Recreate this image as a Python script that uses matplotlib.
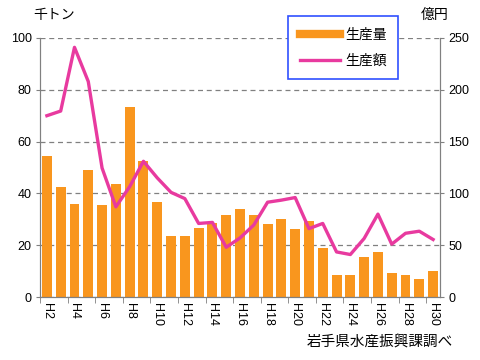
import numpy as np
import matplotlib
matplotlib.use('Agg')
import matplotlib.pyplot as plt
from matplotlib.lines import Line2D

plt.rcParams['font.family'] = ['Liberation Sans', 'Noto Sans CJK JP']

# 年次（平成）
years = ['H%d' % y for y in range(2, 31)]
# 生産量（千トン）
volume = [54.5, 42.5, 36, 49, 35.5, 43.5, 73.5, 52.5, 36.5, 23.5,
          23.5, 26.5, 28.5, 31.5, 34, 31.5, 28.3, 30, 26.3, 29.4,
          19, 8.5, 8.5, 15.5, 17.4, 9.2, 8.5, 6.9, 10]
# 生産額（億円）
value = [175, 179.5, 241, 208, 124.5, 87, 106.5, 131, 115, 101,
         95, 71, 72, 48, 57, 69.5, 91.5, 93.5, 96, 66,
         71, 43.5, 41, 56.5, 80, 51, 61.5, 63.5, 55.5]

bar_color = '#F9961E'
line_color = '#E83A9F'
axis_color = '#808080'

fig = plt.figure(figsize=(4.8, 3.6), dpi=100)
ax = fig.add_axes([40 / 480, 1 - 297 / 360, 400 / 480, 259 / 360])
x = np.arange(len(years))

ax.bar(x, volume, width=0.72, color=bar_color, zorder=2)
ax.set_xlim(-0.5, len(years) - 0.5)
ax.set_ylim(0, 100)
ax.set_yticks([0, 20, 40, 60, 80, 100])
ax.yaxis.grid(True, linestyle=(0, (4, 3)), color=axis_color, linewidth=0.9)
ax.set_axisbelow(True)

ax.set_xticks(x[::2])
ax.set_xticklabels(years[::2], rotation=-90)
ax.set_xticks(np.arange(-0.5, len(years), 2), minor=True)
ax.tick_params(axis='x', which='major', length=0, pad=4, labelsize=9)
ax.tick_params(axis='x', which='minor', length=4, color=axis_color)
ax.tick_params(axis='y', length=3, color=axis_color, labelsize=9, pad=3)

ax2 = ax.twinx()
ax2.plot(x, value, color=line_color, linewidth=2.4, zorder=3)
ax2.set_ylim(0, 250)
ax2.set_yticks([0, 50, 100, 150, 200, 250])
ax2.tick_params(axis='y', length=3, color=axis_color, labelsize=9, pad=3)

for a in (ax, ax2):
    a.spines['top'].set_visible(False)
    for s in ('left', 'right', 'bottom'):
        a.spines[s].set_color(axis_color)

fig.text(33 / 480, 1 - 15 / 360, '千トン', fontsize=10, va='center', ha='left')
fig.text(449 / 480, 1 - 15 / 360, '億円', fontsize=10, va='center', ha='right')
fig.text(453 / 480, 1 - 343 / 360, '岩手県水産振興課調べ', fontsize=10.5, va='center', ha='right')

handles = [Line2D([0], [0], color=bar_color, linewidth=6),
           Line2D([0], [0], color=line_color, linewidth=2.4)]
leg = fig.legend(handles, ['生産量', '生産額'], loc='upper left',
                 bbox_to_anchor=(288 / 480, 1 - 16 / 360), fontsize=10,
                 fancybox=False, framealpha=1, handlelength=2.9,
                 handletextpad=0.35, labelspacing=0.85, borderpad=0.85,
                 borderaxespad=0)
leg.get_frame().set_edgecolor('#3050FF')
leg.get_frame().set_linewidth(1.2)

fig.savefig('out.png', dpi=100)
